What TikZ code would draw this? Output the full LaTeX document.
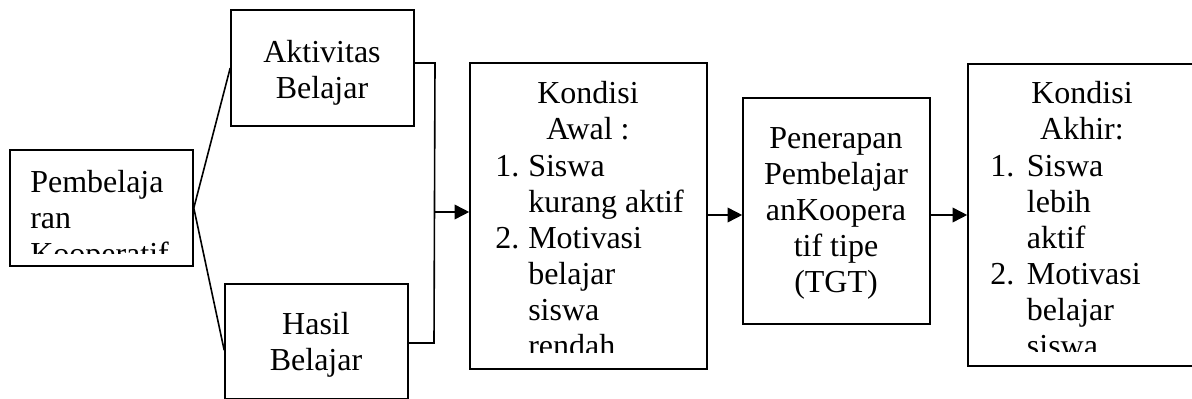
\documentclass[tikz,border=0pt]{standalone}
\usepackage{fontspec}
\setmainfont{Liberation Serif}
\usetikzlibrary{fit,arrows.meta}
\begin{document}
\begin{tikzpicture}[x=0.75pt,y=-0.75pt,
  box/.style={draw=black,line width=1.2pt,inner sep=0pt,fill=none},
  txt/.style={inner sep=0pt,anchor=north,font=\fontsize{24}{27}\selectfont},
  conn/.style={draw=black,line width=1.2pt},
  arr/.style={conn,-{Triangle[length=11pt,width=11pt]}}]
\newcommand{\fl}{\rule{0pt}{22pt}}
\clip (0,0) rectangle (1192,399);
\fill[white] (0,0) rectangle (1192,399);
% boxes
\node[box,fit={(10,150) (193,266)}] (pk) {};
\node[box,fit={(231,10) (414,126)}] (akt) {};
\node[box,fit={(225,284) (408,398.5)}] (has) {};
\node[box,fit={(470,63) (707,369)}] (awal) {};
\node[box,fit={(743,98) (930,324)}] (pen) {};
\node[box,fit={(968,64) (1210,366)}] (akh) {};
% texts
\begin{scope}
\clip (10,150) rectangle (193,253);
\node[txt,anchor=north west,align=left] (tpk) at (30,162.7) {\fl Pembelaja\\ran\\Kooperatif};
\end{scope}
\node[txt,align=center] (takt) at (322,32.7) {\fl Aktivitas\\Belajar};
\begin{scope}
\clip (225,284) rectangle (408,398);
\node[txt,align=center] (thas) at (316,305.2) {\fl Hasil\\Belajar};
\end{scope}
\begin{scope}
\clip (470,63) rectangle (707,352);
\node[txt,align=center] (tawal) at (588,73.7) {\fl Kondisi\\Awal :};
\node[txt,anchor=north west,align=left] (lawal) at (495,146.7) {\fl\makebox[24.75pt][l]{1.}Siswa\\\hspace*{24.75pt}kurang aktif\\\makebox[24.75pt][l]{2.}Motivasi\\\hspace*{24.75pt}belajar\\\hspace*{24.75pt}siswa\\\hspace*{24.75pt}rendah};
\end{scope}
\node[txt,align=center] (tpen) at (836,118.7) {\fl Penerapan\\Pembelajar\\anKoopera\\tif tipe\\(TGT)};
\begin{scope}
\clip (968,64) rectangle (1192,351);
\node[txt,align=center] (takh) at (1082,73.7) {\fl Kondisi\\Akhir:};
\node[txt,anchor=north west,align=left] (lakh) at (990,146.7) {\fl\makebox[27.5pt][l]{1.}Siswa\\\hspace*{27.5pt}lebih\\\hspace*{27.5pt}aktif\\\makebox[27.5pt][l]{2.}Motivasi\\\hspace*{27.5pt}belajar\\\hspace*{27.5pt}siswa};
\end{scope}
% connectors
\draw[conn] (pk.east) -- (akt.west);
\draw[conn] (pk.east) -- ([yshift=-6.75pt]has.west);
\coordinate (jt) at (435,63);
\coordinate (jb) at (434,343);
\coordinate (jm) at (435,212);
\draw[conn] (akt.east |- jt) -- (jt) -- (jb) -- (has.east |- jb);
\draw[arr] (jm) -- (jm -| awal.west);
\draw[arr] (awal.east |- akh.west) -- (pen.west |- akh.west);
\draw[arr] (pen.east |- akh.west) -- (akh.west);
\end{tikzpicture}
\end{document}
